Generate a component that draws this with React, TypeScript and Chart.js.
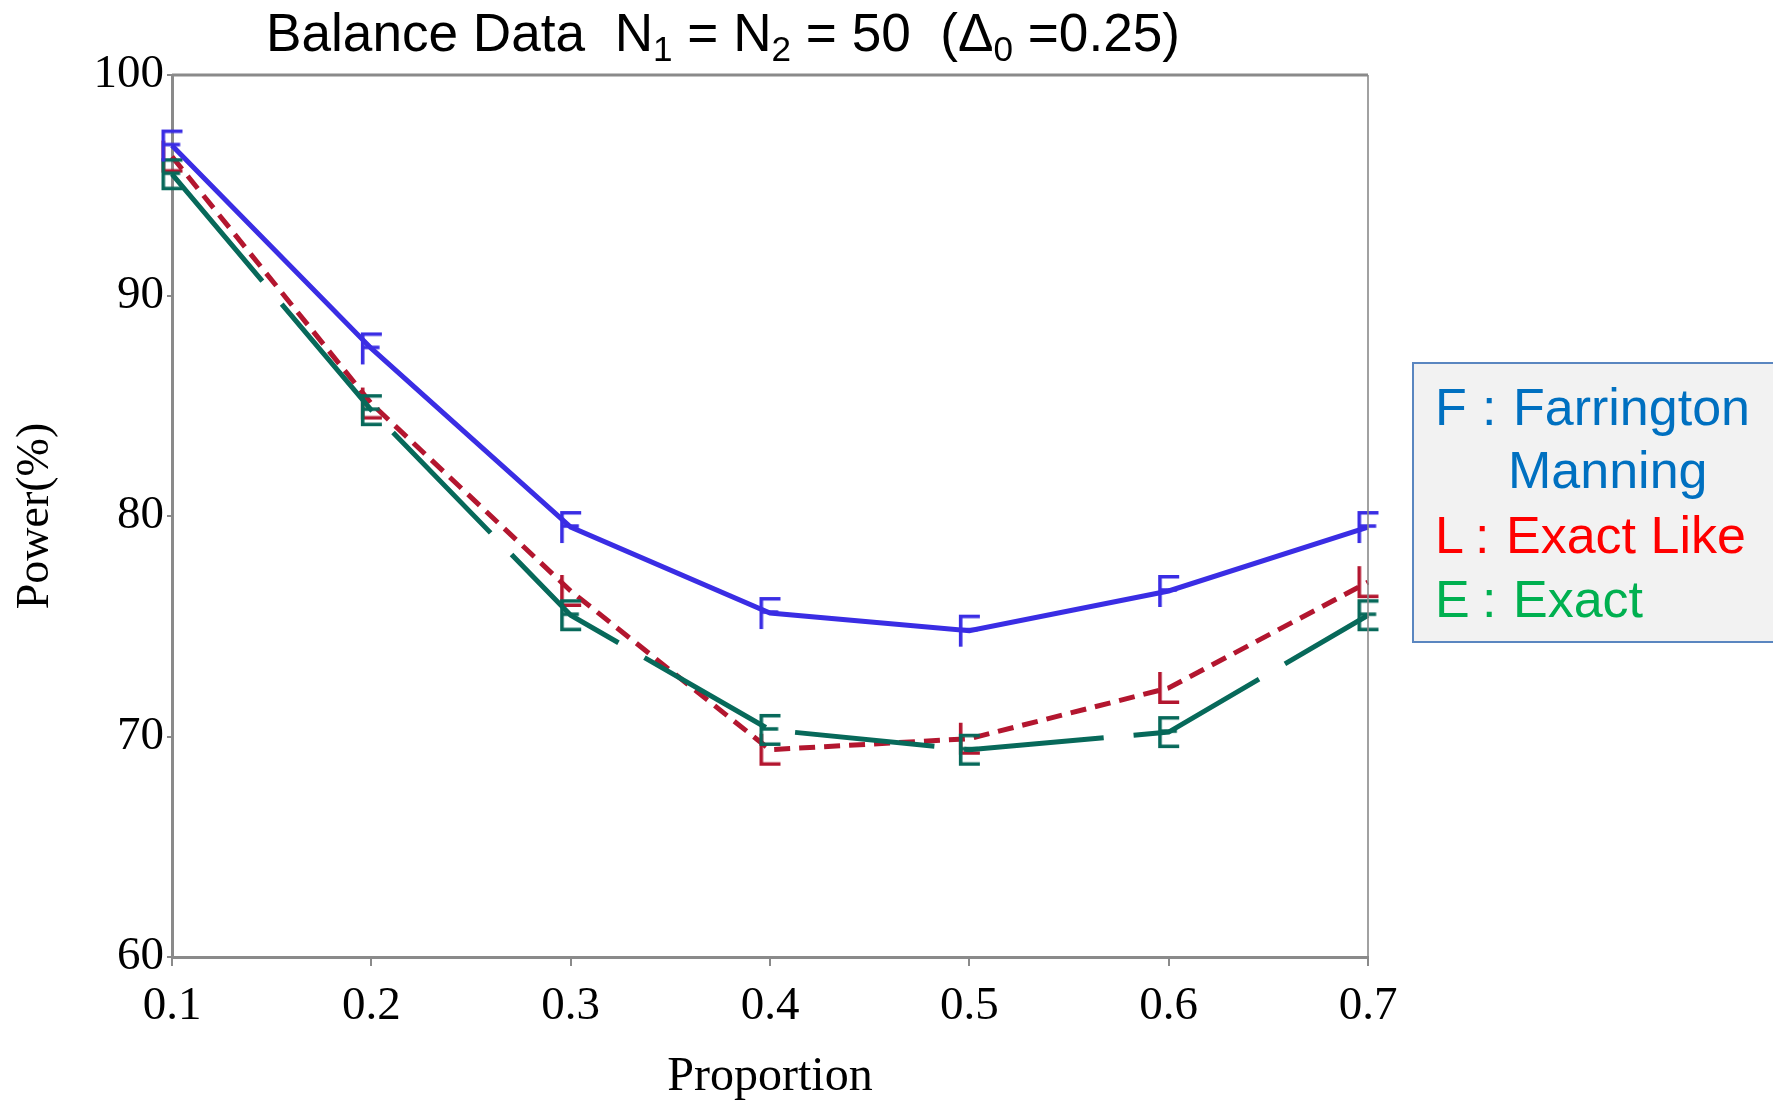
import React, { useEffect, useRef } from "react";
import { Chart, registerables } from "chart.js";

Chart.register(...registerables);

const proportions = [0.1, 0.2, 0.3, 0.4, 0.5, 0.6, 0.7];
const farrington = [96.8, 87.6, 79.5, 75.6, 74.8, 76.6, 79.5];
const exactLike = [96.3, 85.1, 76.6, 69.4, 69.9, 72.2, 77.0];
const exact = [95.5, 84.8, 75.5, 70.3, 69.4, 70.2, 75.5];
const yMin = 60;
const yMax = 100;
const yStep = 10;
const xMin = 0.1;
const xMax = 0.7;
const xStep = 0.1;

const titleParts: [string, boolean][] = [
  ["Balance Data  N", false],
  ["1", true],
  [" = N", false],
  ["2", true],
  [" = 50  (\u0394", false],
  ["0", true],
  [" =0.25)", false],
];
const xTitle = "Proportion";
const yTitle = "Power(%)";

const SERIF = "'Liberation Serif', 'DejaVu Serif', serif";
const SANS = "'Liberation Sans', Arial, sans-serif";

const BLUE = "#3a2de4";
const RED = "#b3162f";
const TEAL = "#07695a";

function letterMarker(letter: string, color: string): HTMLCanvasElement {
  const w = 21;
  const h = 32;
  const lw = 3.6;
  const c = document.createElement("canvas");
  c.width = w + 10;
  c.height = h + 10;
  const ctx = c.getContext("2d")!;
  ctx.strokeStyle = color;
  ctx.lineWidth = lw;
  const x0 = 5 + lw / 2;
  const xr = 5 + w;
  const y0 = 5;
  const y1 = 5 + h;
  ctx.beginPath();
  ctx.moveTo(x0, y0);
  ctx.lineTo(x0, y1);
  if (letter === "F" || letter === "E") {
    ctx.moveTo(x0, y0 + lw / 2);
    ctx.lineTo(xr, y0 + lw / 2);
    ctx.moveTo(x0, y0 + h * 0.47);
    ctx.lineTo(x0 + (xr - x0) * 0.88, y0 + h * 0.47);
  }
  if (letter === "E" || letter === "L") {
    ctx.moveTo(x0, y1 - lw / 2);
    ctx.lineTo(xr, y1 - lw / 2);
  }
  ctx.stroke();
  return c;
}

const overlayPlugin = {
  id: "overlay",
  afterDraw(chart: any) {
    const ctx: CanvasRenderingContext2D = chart.ctx;
    const a = chart.chartArea;
    ctx.save();
    // top and right frame
    ctx.strokeStyle = "#8a8a8a";
    ctx.lineWidth = 3;
    ctx.beginPath();
    ctx.moveTo(a.left, a.top);
    ctx.lineTo(a.right, a.top);
    ctx.stroke();
    ctx.lineWidth = 1.6;
    ctx.beginPath();
    ctx.moveTo(a.right, a.top);
    ctx.lineTo(a.right, a.bottom);
    ctx.stroke();

    // title
    const mainFont = `53px ${SANS}`;
    const subFont = `35px ${SANS}`;
    let total = 0;
    for (const [t, sub] of titleParts) {
      ctx.font = sub ? subFont : mainFont;
      total += ctx.measureText(t).width;
    }
    const targetW = 914;
    const sx = targetW / total;
    ctx.save();
    ctx.translate(266, 51);
    ctx.scale(sx, 1);
    ctx.fillStyle = "#000";
    ctx.textBaseline = "alphabetic";
    ctx.textAlign = "left";
    let x = 0;
    for (const [t, sub] of titleParts) {
      ctx.font = sub ? subFont : mainFont;
      ctx.fillText(t, x, sub ? 10 : 0);
      x += ctx.measureText(t).width;
    }
    ctx.restore();

    // axis titles
    ctx.fillStyle = "#000";
    ctx.font = `48px ${SERIF}`;
    ctx.textAlign = "center";
    ctx.textBaseline = "alphabetic";
    ctx.fillText(xTitle, (a.left + a.right) / 2, 1090);
    ctx.save();
    ctx.translate(48, (a.top + a.bottom) / 2);
    ctx.rotate(-Math.PI / 2);
    ctx.font = `46px ${SERIF}`;
    ctx.fillText(yTitle, 0, 0);
    ctx.restore();

    // legend box
    ctx.fillStyle = "#f2f2f2";
    ctx.fillRect(1413, 363, 400, 279);
    ctx.strokeStyle = "#5a86c0";
    ctx.lineWidth = 2;
    ctx.strokeRect(1413, 363, 400, 279);
    ctx.font = `52px ${SANS}`;
    ctx.textAlign = "left";
    ctx.textBaseline = "alphabetic";
    const rows: [string, number, number, string][] = [
      ["F", 1435, 425, "#0070c0"],
      [":", 1482, 425, "#0070c0"],
      ["Farrington", 1513, 425, "#0070c0"],
      ["Manning", 1508, 488, "#0070c0"],
      ["L", 1435, 553, "#ff0000"],
      [":", 1475, 553, "#ff0000"],
      ["Exact Like", 1506, 553, "#ff0000"],
      ["E", 1435, 617, "#00b050"],
      [":", 1482, 617, "#00b050"],
      ["Exact", 1513, 617, "#00b050"],
    ];
    for (const [t, tx, ty, col] of rows) {
      ctx.fillStyle = col;
      ctx.fillText(t, tx, ty);
    }
    ctx.restore();
  },
};

export default function App() {
  const ref = useRef<HTMLCanvasElement | null>(null);
  useEffect(() => {
    const canvas = ref.current!;
    const toXY = (vals: number[]) => proportions.map((p, i) => ({ x: p, y: vals[i] }));
    const chart = new Chart(canvas, {
      type: "line",
      data: {
        datasets: [
          {
            label: "F",
            data: toXY(farrington),
            borderColor: BLUE,
            backgroundColor: BLUE,
            borderWidth: 5,
            pointStyle: letterMarker("F", BLUE) as any,
            pointRadius: 10,
            clip: false as any,
          },
          {
            label: "E",
            data: toXY(exact),
            borderColor: TEAL,
            backgroundColor: TEAL,
            borderWidth: 5,
            borderDash: [140, 30],
            pointStyle: letterMarker("E", TEAL) as any,
            pointRadius: 10,
            clip: false as any,
          },
          {
            label: "L",
            data: toXY(exactLike),
            borderColor: RED,
            backgroundColor: RED,
            borderWidth: 5,
            borderDash: [16, 9],
            pointStyle: letterMarker("L", RED) as any,
            pointRadius: 10,
            clip: false as any,
          },
        ],
      },
      options: {
        responsive: false,
        animation: false,
        layout: { padding: { top: 75, right: 405, left: 0, bottom: 0 } },
        plugins: {
          legend: { display: false },
          tooltip: { enabled: false },
          title: { display: false },
        },
        scales: {
          x: {
            type: "linear",
            min: xMin,
            max: xMax,
            afterFit: (s: any) => {
              s.height = 144;
            },
            afterBuildTicks: (s: any) => {
              s.ticks = proportions.map((v) => ({ value: v }));
            },
            ticks: {
              stepSize: xStep,
              color: "#000",
              font: { family: SERIF, size: 47 },
              padding: 12,
              maxRotation: 0,
              callback: (v: any) => Number(v).toFixed(1),
            },
            grid: {
              drawOnChartArea: false,
              drawTicks: true,
              tickLength: 9,
              color: "#8a8a8a",
              lineWidth: 2,
            },
            border: { display: true, color: "#8a8a8a", width: 3 },
          },
          y: {
            type: "linear",
            min: yMin,
            max: yMax,
            afterFit: (s: any) => {
              s.width = 172;
            },
            ticks: {
              stepSize: yStep,
              color: "#000",
              font: { family: SERIF, size: 47 },
              padding: 3,
            },
            grid: {
              drawOnChartArea: false,
              drawTicks: true,
              tickLength: 5,
              color: "#8a8a8a",
              lineWidth: 2,
            },
            border: { display: true, color: "#8a8a8a", width: 3 },
          },
        },
      },
      plugins: [overlayPlugin],
    });
    return () => chart.destroy();
  }, []);
  return (
    <div style={{ position: "fixed", left: 0, top: 0, width: 1773, height: 1101, background: "#fff" }}>
      <canvas ref={ref} width={1773} height={1101} style={{ display: "block", width: 1773, height: 1101 }} />
    </div>
  );
}
